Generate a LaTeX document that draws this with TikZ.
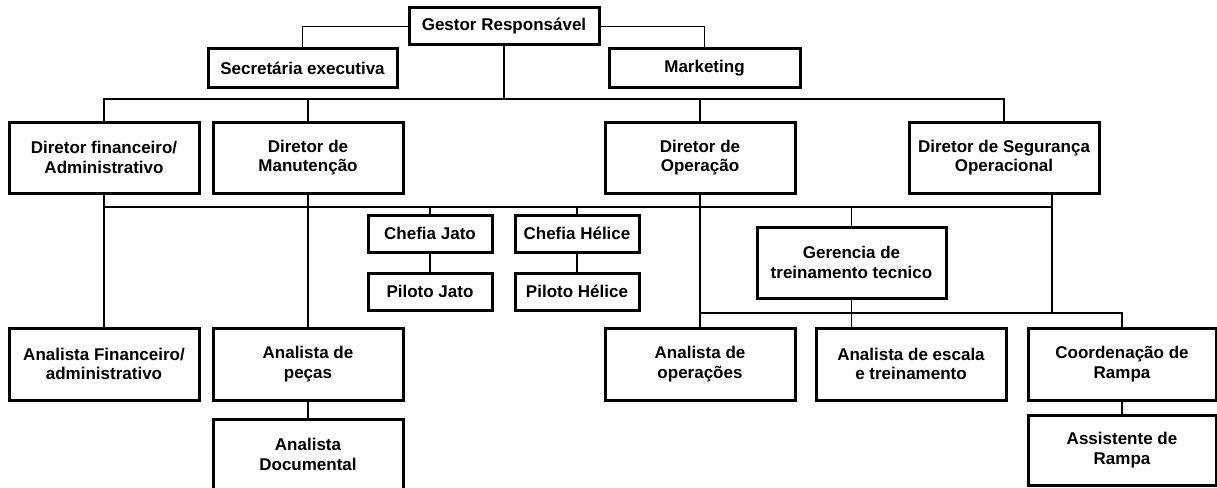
\documentclass[tikz,border=0pt]{standalone}
\usepackage{fontspec}
\setmainfont{Liberation Sans}
\begin{document}
\begin{tikzpicture}[x=1pt,y=-1pt,
  box/.style={draw=black,line width=3pt,fill=white,align=center,inner sep=0pt,
    font=\fontsize{17}{19.5}\selectfont\bfseries},
  link/.style={draw=black,line width=1.3pt}]
\useasboundingbox[fill=white] (0,0) rectangle (1217,487);
% top level
\node[box,minimum width=190,minimum height=37] (gestor) at (504,26.5) {Gestor Responsável};
\node[box,minimum width=189,minimum height=38] (sec) at (302.5,68) {Secretária executiva};
\node[box,minimum width=191,minimum height=38] (mkt) at (704.5,68) {Marketing};
% directors
\node[box,minimum width=190,minimum height=71] (dfin) at (104,157.5) {Diretor financeiro/\\Administrativo};
\node[box,minimum width=190,minimum height=71] (dman) at (308,157.5) {Diretor de\\Manutenção};
\node[box,minimum width=190,minimum height=71] (dop) at (700,157.5) {Diretor de\\Operação};
\node[box,minimum width=190,minimum height=71] (dseg) at (1004,157.5) {Diretor de Segurança\\Operacional};
% middle
\node[box,minimum width=124,minimum height=37] (cjato) at (430,233.5) {Chefia Jato};
\node[box,minimum width=124,minimum height=37] (pjato) at (430,291.5) {Piloto Jato};
\node[box,minimum width=124,minimum height=37] (chel) at (577,233.5) {Chefia Hélice};
\node[box,minimum width=124,minimum height=37] (phel) at (577,291.5) {Piloto Hélice};
\node[box,minimum width=189,minimum height=71] (ger) at (851.5,262.5) {Gerencia de\\treinamento tecnico};
% bottom
\node[box,minimum width=190,minimum height=72] (afin) at (104,364) {Analista Financeiro/\\administrativo};
\node[box,minimum width=190,minimum height=72] (apec) at (308,364) {Analista de\\peças};
\node[box,minimum width=190,minimum height=71] (adoc) at (308,454.5) {Analista\\Documental};
\node[box,minimum width=190,minimum height=72] (aop) at (700,364) {Analista de\\operações};
\node[box,minimum width=190,minimum height=72] (aesc) at (911,364) {Analista de escala\\e treinamento};
\node[box,minimum width=188,minimum height=72] (coord) at (1122,364) {Coordenação de\\Rampa};
\node[box,minimum width=188,minimum height=70] (assist) at (1122,450) {Assistente de\\Rampa};
% bus coordinates
\coordinate (b1) at (504,99);
\coordinate (b2l) at (104,207);
\coordinate (b2r) at (1052,207);
\coordinate (b3) at (700,313);
% connectors
\draw[link] (gestor.west) -| (sec.north);
\draw[link] (gestor.east) -| (mkt.north);
\draw[link] (gestor.south) -- (b1);
\draw[link] (dfin.north) |- (b1) -| (dseg.north);
\draw[link] (dman.north) -- (dman.north |- b1);
\draw[link] (dop.north) -- (dop.north |- b1);
\draw[link] (dfin.south) -- (afin.north);
\draw[link] (dman.south) -- (apec.north);
\draw[link] (apec.south) -- (adoc.north);
\draw[link] (b2l) -- (b2r);
\draw[link] (dseg.south -| b2r) -- (b2r |- b3);
\draw[link] (cjato.north) -- (cjato.north |- b2l);
\draw[link] (chel.north) -- (chel.north |- b2l);
\draw[link] (ger.north) -- (ger.north |- b2l);
\draw[link] (cjato.south) -- (pjato.north);
\draw[link] (chel.south) -- (phel.north);
\draw[link] (dop.south) -- (aop.north);
\draw[link] (ger.south) -- (ger.south |- aesc.north);
\draw[link] (b3) -| (coord.north);
\draw[link] (coord.south) -- (assist.north);
\end{tikzpicture}
\end{document}
